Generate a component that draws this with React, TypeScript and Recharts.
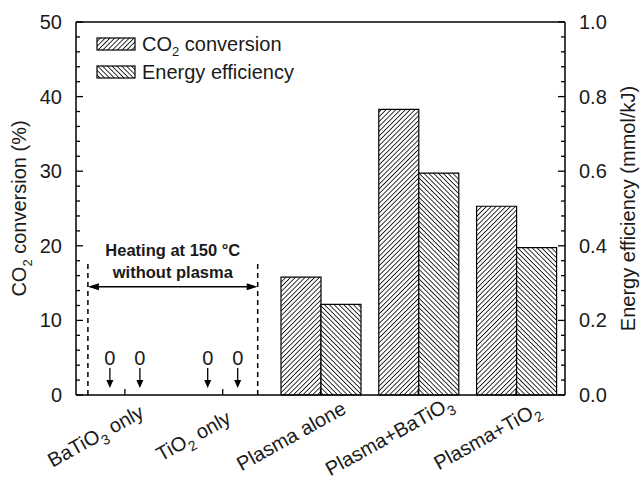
import React from 'react';
import { BarChart, Bar, XAxis, YAxis, ReferenceLine, ReferenceDot, Legend, Label } from 'recharts';

const categories = ['BaTiO3 only', 'TiO2 only', 'Plasma alone', 'Plasma+BaTiO3', 'Plasma+TiO2'];
const co2Conversion = [0, 0, 15.8, 38.3, 25.3];
const energyEfficiency = [0, 0, 0.243, 0.595, 0.395];
const leftTicks = [0, 2, 4, 6, 8, 10, 12, 14, 16, 18, 20, 22, 24, 26, 28, 30, 32, 34, 36, 38, 40, 42, 44, 46, 48, 50];
const rightTicks = [0, 0.04, 0.08, 0.12, 0.16, 0.2, 0.24, 0.28, 0.32, 0.36, 0.4, 0.44, 0.48, 0.52, 0.56, 0.6, 0.64, 0.68, 0.72, 0.76, 0.8, 0.84, 0.88, 0.92, 0.96, 1];
const heatingFrom = 'BaTiO3 only';
const heatingTo = 'TiO2 only';
const heatingLineTop = 17.7;
const heatingArrowLevel = 14.5;
const heatingText = ['Heating at 150 °C', 'without plasma'];

const data = categories.map((c, i) => ({ category: c, co2: co2Conversion[i], ee: energyEfficiency[i] }));

const FONT = '"Liberation Sans", Arial, Helvetica, sans-serif';
const INK = '#1a1a1a';
const LEFT_EDGE_SHIFT = -37;
const RIGHT_EDGE_SHIFT = 35;

function chemParts(text: string) {
  const parts: { t: string; sub: boolean }[] = [];
  const re = /([A-Za-z])(\d+)/g;
  let last = 0;
  let m: RegExpExecArray | null;
  while ((m = re.exec(text)) !== null) {
    const idx = m.index + 1;
    if (idx > last) parts.push({ t: text.slice(last, idx), sub: false });
    parts.push({ t: m[2], sub: true });
    last = idx + m[2].length;
  }
  if (last < text.length) parts.push({ t: text.slice(last), sub: false });
  return parts;
}

function svgChem(text: string, subSize: number, shift: number) {
  const parts = chemParts(text);
  let cur = 0;
  return parts.map((p, i) => {
    const target = p.sub ? shift : 0;
    const dy = target - cur;
    cur = target;
    return (
      <tspan key={i} dy={dy} fontSize={p.sub ? subSize : undefined}>
        {p.t}
      </tspan>
    );
  });
}

const XTick = (props: any) => {
  const { x, y, payload } = props;
  return (
    <g>
      <line x1={x} x2={x} y1={y} y2={y - 6} stroke="#000" strokeWidth={1.3} />
      <text
        transform={`translate(${x - 26},${y + 47}) rotate(-29)`}
        textAnchor="middle"
        dy="0.35em"
        fontSize={20}
        fontFamily={FONT}
        fill={INK}
      >
        {svgChem(String(payload.value), 14, 6)}
      </text>
    </g>
  );
};

const LeftTick = (props: any) => {
  const { x, y, payload } = props;
  const v = payload.value as number;
  const major = Math.abs(v / 10 - Math.round(v / 10)) < 1e-6;
  const axisX = x + 14;
  return (
    <g>
      <line x1={axisX} x2={axisX + (major ? 7 : 4)} y1={y} y2={y} stroke="#000" strokeWidth={1.3} />
      {major && (
        <text x={x} y={y} dy="0.35em" textAnchor="end" fontSize={20} fontFamily={FONT} fill={INK}>
          {v}
        </text>
      )}
    </g>
  );
};

const RightTick = (props: any) => {
  const { x, y, payload } = props;
  const v = payload.value as number;
  const major = Math.abs(v * 5 - Math.round(v * 5)) < 1e-6;
  const axisX = x - 14;
  return (
    <g>
      <line x1={axisX} x2={axisX - (major ? 7 : 4)} y1={y} y2={y} stroke="#000" strokeWidth={1.3} />
      {major && (
        <text x={x} y={y} dy="0.35em" textAnchor="start" fontSize={20} fontFamily={FONT} fill={INK}>
          {v.toFixed(1)}
        </text>
      )}
    </g>
  );
};

const zeroMark = (shift: number) => (props: any) => {
  const cx = Number(props.cx) + shift;
  const base = Number(props.cy);
  return (
    <g>
      <text x={cx} y={base - 37} dy="0.35em" textAnchor="middle" fontSize={20} fontFamily={FONT} fill={INK}>
        0
      </text>
      <line x1={cx} x2={cx} y1={base - 27} y2={base - 14} stroke="#000" strokeWidth={1.3} />
      <polygon points={`${cx - 3.5},${base - 15} ${cx + 3.5},${base - 15} ${cx},${base - 7}`} fill="#000" />
    </g>
  );
};

const dashed = (shift: number) => (p: any) => (
  <line x1={p.x1 + shift} x2={p.x2 + shift} y1={p.y1} y2={p.y2} stroke="#000" strokeWidth={1.5} strokeDasharray="5 4" />
);

const HeatArrow = (props: any) => {
  const { x1, y1, x2 } = props;
  const a = Math.min(x1, x2) + LEFT_EDGE_SHIFT;
  const b = Math.max(x1, x2) + RIGHT_EDGE_SHIFT;
  const mid = (a + b) / 2;
  return (
    <g>
      <line x1={a + 4} x2={b - 4} y1={y1} y2={y1} stroke="#000" strokeWidth={1.5} />
      <polygon points={`${a},${y1} ${a + 11},${y1 - 3.5} ${a + 11},${y1 + 3.5}`} fill="#000" />
      <polygon points={`${b},${y1} ${b - 11},${y1 - 3.5} ${b - 11},${y1 + 3.5}`} fill="#000" />
      <text x={mid} y={y1 - 37} dy="0.35em" textAnchor="middle" fontSize={16.5} fontWeight="bold" fontFamily={FONT} fill={INK}>
        {heatingText[0]}
      </text>
      <text x={mid} y={y1 - 15} dy="0.35em" textAnchor="middle" fontSize={16.5} fontWeight="bold" fontFamily={FONT} fill={INK}>
        {heatingText[1]}
      </text>
    </g>
  );
};

const LeftTitle = (props: any) => {
  const vb = props.viewBox || {};
  const cx = vb.x + 10;
  const cy = vb.y + vb.height / 2;
  return (
    <text transform={`translate(${cx},${cy}) rotate(-90)`} textAnchor="middle" dy="0.35em" fontSize={20} fontFamily={FONT} fill={INK}>
      {svgChem('CO2 conversion (%)', 13, 6)}
    </text>
  );
};

const RightTitle = (props: any) => {
  const vb = props.viewBox || {};
  const cx = vb.x + 63;
  const cy = vb.y + vb.height / 2;
  return (
    <text transform={`translate(${cx},${cy}) rotate(-90)`} textAnchor="middle" dy="0.35em" fontSize={20} fontFamily={FONT} fill={INK}>
      Energy efficiency (mmol/kJ)
    </text>
  );
};

const HATCH = 3.4;
const HATCH_W = 1.7;

const Swatch = ({ kind }: { kind: 'a' | 'b' }) => (
  <svg width={41} height={15} style={{ display: 'block' }}>
    <defs>
      <pattern id={`leg-${kind}`} width={HATCH} height={HATCH} patternUnits="userSpaceOnUse" patternTransform={`rotate(${kind === 'a' ? 45 : -45})`}>
        <rect width={HATCH} height={HATCH} fill="#fff" />
        <line x1={0} y1={0} x2={0} y2={HATCH} stroke="#111" strokeWidth={HATCH_W} />
      </pattern>
    </defs>
    <rect x={1} y={1} width={38} height={12} fill={`url(#leg-${kind})`} stroke="#000" strokeWidth={1.2} />
  </svg>
);

const LegendContent = (props: any) => {
  const payload = (props.payload || []) as any[];
  return (
    <div style={{ fontFamily: FONT, fontSize: 20, color: INK }}>
      {payload.map((p, i) => (
        <div key={i} style={{ display: 'flex', alignItems: 'center', height: 28, whiteSpace: 'nowrap' }}>
          <Swatch kind={p.dataKey === 'co2' ? 'a' : 'b'} />
          <span style={{ marginLeft: 5 }}>
            {chemParts(String(p.value)).map((c, j) =>
              c.sub ? (
                <sub key={j} style={{ fontSize: 13, verticalAlign: 'baseline', position: 'relative', top: 5 }}>
                  {c.t}
                </sub>
              ) : (
                <span key={j}>{c.t}</span>
              )
            )}
          </span>
        </div>
      ))}
    </div>
  );
};

export default function App() {
  return (
    <div style={{ position: 'absolute', left: 0, top: 0, width: 643, height: 489, background: '#fff' }}>
      <BarChart
        width={643}
        height={489}
        data={data}
        margin={{ top: 22, right: 18, bottom: 34, left: 16 }}
        barCategoryGap="9.6%"
        barGap={0}
      >
        <defs>
          <pattern id="hatchA" width={HATCH} height={HATCH} patternUnits="userSpaceOnUse" patternTransform="rotate(45)">
            <rect width={HATCH} height={HATCH} fill="#fff" />
            <line x1={0} y1={0} x2={0} y2={HATCH} stroke="#111" strokeWidth={HATCH_W} />
          </pattern>
          <pattern id="hatchB" width={HATCH} height={HATCH} patternUnits="userSpaceOnUse" patternTransform="rotate(-45)">
            <rect width={HATCH} height={HATCH} fill="#fff" />
            <line x1={0} y1={0} x2={0} y2={HATCH} stroke="#111" strokeWidth={HATCH_W} />
          </pattern>
        </defs>
        <XAxis
          dataKey="category"
          height={60}
          tickSize={0}
          tickMargin={0}
          tickLine={false}
          interval={0}
          axisLine={{ stroke: '#000', strokeWidth: 1.5 }}
          tick={<XTick />}
        />
        <YAxis
          yAxisId="left"
          orientation="left"
          width={60}
          domain={[0, 50]}
          ticks={leftTicks}
          interval={0}
          tickSize={0}
          tickMargin={14}
          tickLine={false}
          axisLine={{ stroke: '#000', strokeWidth: 1.5 }}
          tick={<LeftTick />}
        >
          <Label content={<LeftTitle />} />
        </YAxis>
        <YAxis
          yAxisId="right"
          orientation="right"
          width={60}
          domain={[0, 1]}
          ticks={rightTicks}
          interval={0}
          tickSize={0}
          tickMargin={14}
          tickLine={false}
          axisLine={{ stroke: '#000', strokeWidth: 1.5 }}
          tick={<RightTick />}
        >
          <Label content={<RightTitle />} />
        </YAxis>
        <Legend
          layout="vertical"
          align="center"
          verticalAlign="middle"
          content={<LegendContent />}
          wrapperStyle={{ top: 30, left: 96, width: 'auto', height: 'auto' }}
        />
        <ReferenceLine yAxisId="left" y={50} stroke="#000" strokeWidth={1.5} />
        <Bar yAxisId="left" dataKey="co2" name="CO2 conversion" fill="url(#hatchA)" stroke="#000" strokeWidth={1.2} isAnimationActive={false} />
        <Bar yAxisId="right" dataKey="ee" name="Energy efficiency" fill="url(#hatchB)" stroke="#000" strokeWidth={1.2} isAnimationActive={false} />
        <ReferenceLine
          yAxisId="left"
          segment={[{ x: heatingFrom, y: 0 }, { x: heatingFrom, y: heatingLineTop }]}
          ifOverflow="visible"
          shape={dashed(LEFT_EDGE_SHIFT)}
        />
        <ReferenceLine
          yAxisId="left"
          segment={[{ x: heatingTo, y: 0 }, { x: heatingTo, y: heatingLineTop }]}
          ifOverflow="visible"
          shape={dashed(RIGHT_EDGE_SHIFT)}
        />
        <ReferenceLine
          yAxisId="left"
          segment={[{ x: heatingFrom, y: heatingArrowLevel }, { x: heatingTo, y: heatingArrowLevel }]}
          ifOverflow="visible"
          shape={(p: any) => <HeatArrow {...p} />}
        />
        {categories.map((c, i) =>
          co2Conversion[i] === 0 ? (
            <ReferenceDot key={`z-co2-${i}`} yAxisId="left" x={c} y={0} r={1} ifOverflow="visible" shape={zeroMark(-15)} />
          ) : null
        )}
        {categories.map((c, i) =>
          energyEfficiency[i] === 0 ? (
            <ReferenceDot key={`z-ee-${i}`} yAxisId="right" x={c} y={0} r={1} ifOverflow="visible" shape={zeroMark(15)} />
          ) : null
        )}
      </BarChart>
    </div>
  );
}
